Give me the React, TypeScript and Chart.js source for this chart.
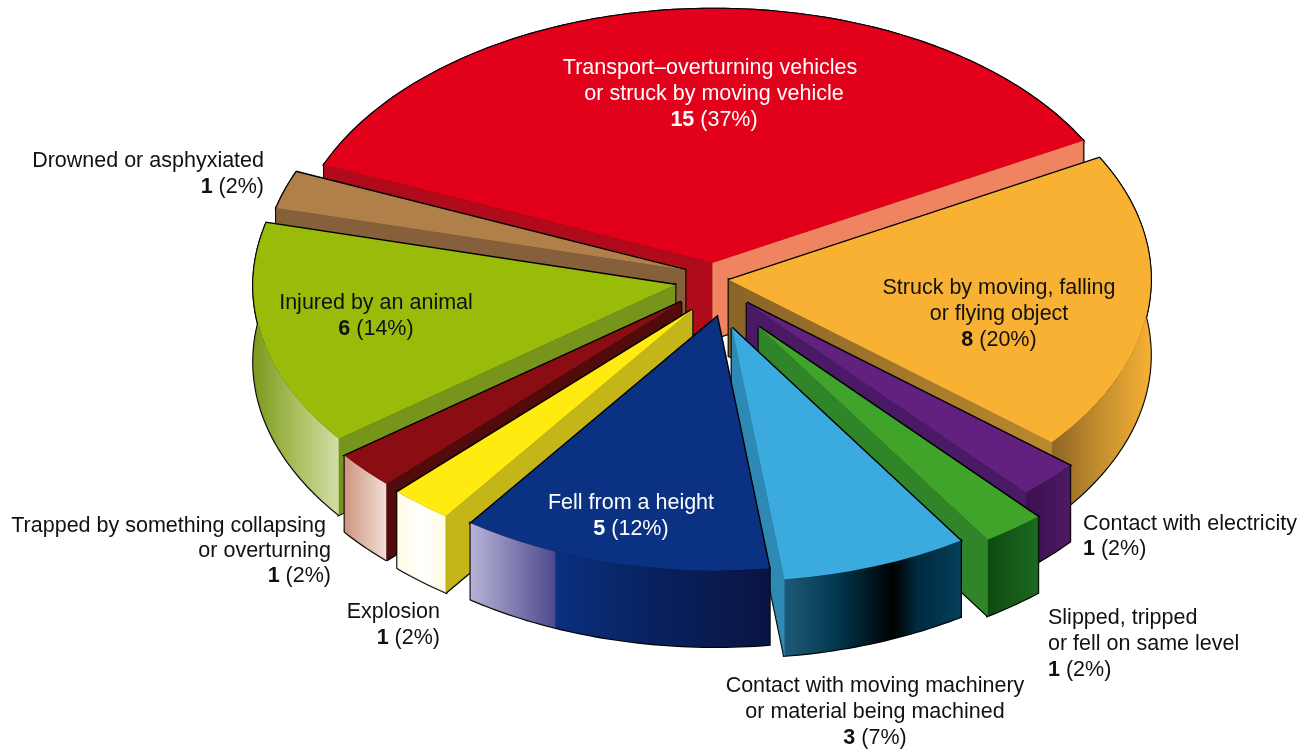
import React, { useEffect, useRef } from "react";
import { Chart, registerables } from "chart.js";

Chart.register(...registerables);

// ---------- data ----------
const categories = [
  "Transport–overturning vehicles or struck by moving vehicle",
  "Struck by moving, falling or flying object",
  "Contact with electricity",
  "Slipped, tripped or fell on same level",
  "Contact with moving machinery or material being machined",
  "Fell from a height",
  "Explosion",
  "Trapped by something collapsing or overturning",
  "Injured by an animal",
  "Drowned or asphyxiated",
];
const counts = [15, 8, 1, 1, 3, 5, 1, 1, 6, 1];
const percents = [37, 20, 2, 2, 7, 12, 2, 2, 14, 2];

const labelLines = [
  ["Transport–overturning vehicles", "or struck by moving vehicle"],
  ["Struck by moving, falling", "or flying object"],
  ["Contact with electricity"],
  ["Slipped, tripped", "or fell on same level"],
  ["Contact with moving machinery", "or material being machined"],
  ["Fell from a height"],
  ["Explosion"],
  ["Trapped by something collapsing", "or overturning"],
  ["Injured by an animal"],
  ["Drowned or asphyxiated"],
];

// ---------- styles ----------
const topColors = ["#e2001a", "#f8b133", "#62217f", "#40a42a", "#3aaadf", "#0b3182", "#ffeb0f", "#890d12", "#99bc0a", "#b07f4a"];
const explode = [[0.7, -32.3], [17, -15], [35, 8], [47, 32], [20, 33], [5, 22], [-20, 15], [-31, 7], [-37, -10], [-27, -25]];
const drawOrder = [0, 9, 1, 8, 2, 7, 3, 6, 4, 5];
type Stops = [number, string][];
const wallStops: Stops[] = [
  [[0, "#b00b1b"], [1, "#b00b1b"]],
  [[0, "#8e6526"], [0.5, "#c48f2e"], [1, "#f6b034"]],
  [[0, "#3b1050"], [1, "#4d1a63"]],
  [[0, "#0e4a10"], [1, "#1c6a1f"]],
  [[0, "#1f5a76"], [0.3, "#02384f"], [0.62, "#000000"], [0.75, "#002a3e"], [1, "#053f5a"]],
  [[0, "#b6b2d6"], [0.28, "#4f4a8e"], [0.285, "#0b2f80"], [0.6, "#08225f"], [1, "#0a1444"]],
  [[0, "#fdfbe3"], [0.5, "#ffffff"], [1, "#fffce0"]],
  [[0, "#cf9580"], [1, "#f1dfd6"]],
  [[0, "#7d9a1c"], [0.5, "#a9bf5e"], [1, "#d3dda8"]],
  [[0, "#86603a"], [1, "#86603a"]],
];
// cut faces: [face at start angle, face at end angle]
const faceColors: (Stops | null)[][] = [
  [[[0, "#b00b1b"], [1, "#b00b1b"]], [[0, "#f08460"], [1, "#f08460"]]],
  [null, [[0, "#8a6428"], [1, "#b8892e"]]],
  [null, [[0, "#4b1a66"], [1, "#4b1a66"]]],
  [null, [[0, "#2f8527"], [1, "#2f8527"]]],
  [null, [[0, "#2e8ab5"], [1, "#2e8ab5"]]],
  [null, null],
  [[[0, "#c4b518"], [1, "#c4b518"]], null],
  [[[0, "#520b0b"], [1, "#520b0b"]], null],
  [[[0, "#76951a"], [1, "#76951a"]], null],
  [[[0, "#86603a"], [1, "#86603a"]], null],
];

// view of the tilted pie
const CENTER = [712, 295];
const AXIS_X = [421.4, -6.4];
const AXIS_Y = [3.1, 253.6];
const DEPTH = 76;

const FONT = '"Liberation Sans", Arial, sans-serif';
const FONT_SIZE = 21.5;
// where each label's block sits: x, first baseline, alignment, colour, line step, per-line dx
const labelPlace: { x: number; y: number; align: "left" | "center" | "right"; color: string; dy: number; dx?: number[] }[] = [
  { x: 714, y: 74, align: "center", color: "#ffffff", dy: 26, dx: [-4, 0] },
  { x: 999, y: 294, align: "center", color: "#111111", dy: 26 },
  { x: 1083, y: 530, align: "left", color: "#111111", dy: 25 },
  { x: 1048, y: 624, align: "left", color: "#111111", dy: 26 },
  { x: 875, y: 692, align: "center", color: "#111111", dy: 26 },
  { x: 631, y: 509, align: "center", color: "#ffffff", dy: 26 },
  { x: 440, y: 618, align: "right", color: "#111111", dy: 26 },
  { x: 331, y: 532, align: "right", color: "#111111", dy: 25, dx: [-5, 0, 0] },
  { x: 376, y: 309, align: "center", color: "#111111", dy: 26 },
  { x: 264, y: 167, align: "right", color: "#111111", dy: 26 },
];

function makeGradient(ctx: CanvasRenderingContext2D, x0: number, x1: number, stops: Stops) {
  const g = ctx.createLinearGradient(x0, 0, x1, 0);
  stops.forEach(([p, c]) => g.addColorStop(p, c));
  return g;
}

const pie3d = {
  id: "pie3d",
  beforeDatasetsDraw(chart: any) {
    const ctx: CanvasRenderingContext2D = chart.ctx;
    const arcs = chart.getDatasetMeta(0).data;
    drawOrder.forEach((i) => {
      const el = arcs[i];
      const tx = CENTER[0] + explode[i][0];
      const ty = CENTER[1] + explode[i][1];
      const point = (a: number, d = 0) => ({
        x: tx + AXIS_X[0] * Math.cos(a) + AXIS_X[1] * Math.sin(a),
        y: ty + AXIS_Y[0] * Math.cos(a) + AXIS_Y[1] * Math.sin(a) + d,
      });
      const steps = Math.max(4, Math.ceil(((el.endAngle - el.startAngle) * 180) / Math.PI));
      const top: { x: number; y: number }[] = [];
      for (let k = 0; k <= steps; k++) top.push(point(el.startAngle + ((el.endAngle - el.startAngle) * k) / steps));
      const bottom = top.map((p) => ({ x: p.x, y: p.y + DEPTH }));
      const tip = { x: tx, y: ty };
      const tipLow = { x: tx, y: ty + DEPTH };
      const xs = top.map((p) => p.x);
      const minX = Math.min(...xs);
      const maxX = Math.max(...xs);

      const parts: { pts: { x: number; y: number }[]; fill: any }[] = [];
      parts.push({ pts: [...top, ...bottom.slice().reverse()], fill: makeGradient(ctx, minX, maxX, wallStops[i]) });
      const [startFace, endFace] = faceColors[i];
      if (startFace)
        parts.push({
          pts: [tip, top[0], bottom[0], tipLow],
          fill: makeGradient(ctx, Math.min(tip.x, top[0].x), Math.max(tip.x, top[0].x), startFace),
        });
      if (endFace)
        parts.push({
          pts: [tip, top[steps], bottom[steps], tipLow],
          fill: makeGradient(ctx, Math.min(tip.x, top[steps].x), Math.max(tip.x, top[steps].x), endFace),
        });
      const topPoly = [tip, ...top];

      const trace = (pts: { x: number; y: number }[]) => {
        ctx.beginPath();
        pts.forEach((p, k) => (k ? ctx.lineTo(p.x, p.y) : ctx.moveTo(p.x, p.y)));
        ctx.closePath();
      };
      // black outline under the fills: only the silhouette stays visible
      ctx.save();
      ctx.lineJoin = "miter";
      ctx.miterLimit = 2;
      ctx.strokeStyle = "#000000";
      ctx.lineWidth = 2.8;
      [...parts.map((p) => p.pts), topPoly].forEach((pts) => {
        trace(pts);
        ctx.stroke();
      });
      parts.forEach((p) => {
        trace(p.pts);
        ctx.fillStyle = p.fill;
        ctx.fill();
        ctx.strokeStyle = p.fill;
        ctx.lineWidth = 0.6;
        ctx.stroke();
      });
      ctx.restore();

      // top surface: the library's own arc, seen through the tilted view
      const R = el.outerRadius;
      ctx.save();
      ctx.transform(AXIS_X[0] / R, AXIS_Y[0] / R, AXIS_X[1] / R, AXIS_Y[1] / R, tx, ty);
      ctx.translate(-el.x, -el.y);
      el.draw(ctx);
      ctx.restore();
    });
    return false;
  },
  afterDraw(chart: any) {
    const ctx: CanvasRenderingContext2D = chart.ctx;
    ctx.save();
    ctx.textBaseline = "alphabetic";
    categories.forEach((_, i) => {
      const place = labelPlace[i];
      const lines = labelLines[i];
      ctx.fillStyle = place.color;
      ctx.textAlign = place.align;
      ctx.font = `${FONT_SIZE}px ${FONT}`;
      lines.forEach((line, k) => {
        ctx.fillText(line, place.x + (place.dx?.[k] ?? 0), place.y + k * place.dy);
      });
      const bold = String(counts[i]);
      const rest = ` (${percents[i]}%)`;
      ctx.font = `bold ${FONT_SIZE}px ${FONT}`;
      const wb = ctx.measureText(bold).width;
      ctx.font = `${FONT_SIZE}px ${FONT}`;
      const wr = ctx.measureText(rest).width;
      const w = wb + wr;
      const left = place.align === "left" ? place.x : place.align === "right" ? place.x - w : place.x - w / 2;
      const y = place.y + lines.length * place.dy;
      ctx.textAlign = "left";
      ctx.font = `bold ${FONT_SIZE}px ${FONT}`;
      ctx.fillText(bold, left, y);
      ctx.font = `${FONT_SIZE}px ${FONT}`;
      ctx.fillText(rest, left + wb, y);
    });
    ctx.restore();
  },
};

export default function App() {
  const ref = useRef<HTMLCanvasElement>(null);
  useEffect(() => {
    if (!ref.current) return;
    const chart = new Chart(ref.current, {
      type: "pie",
      data: {
        labels: categories,
        datasets: [{ data: counts, backgroundColor: topColors, borderWidth: 0 }],
      },
      options: {
        responsive: false,
        animation: false,
        rotation: 292,
        layout: { padding: 0 },
        plugins: { legend: { display: false }, tooltip: { enabled: false } },
      },
      plugins: [pie3d],
    } as any);
    return () => chart.destroy();
  }, []);
  return (
    <div style={{ position: "fixed", left: 0, top: 0, width: 1316, height: 749, background: "#ffffff" }}>
      <canvas ref={ref} width={1316} height={749} style={{ display: "block" }} />
    </div>
  );
}
